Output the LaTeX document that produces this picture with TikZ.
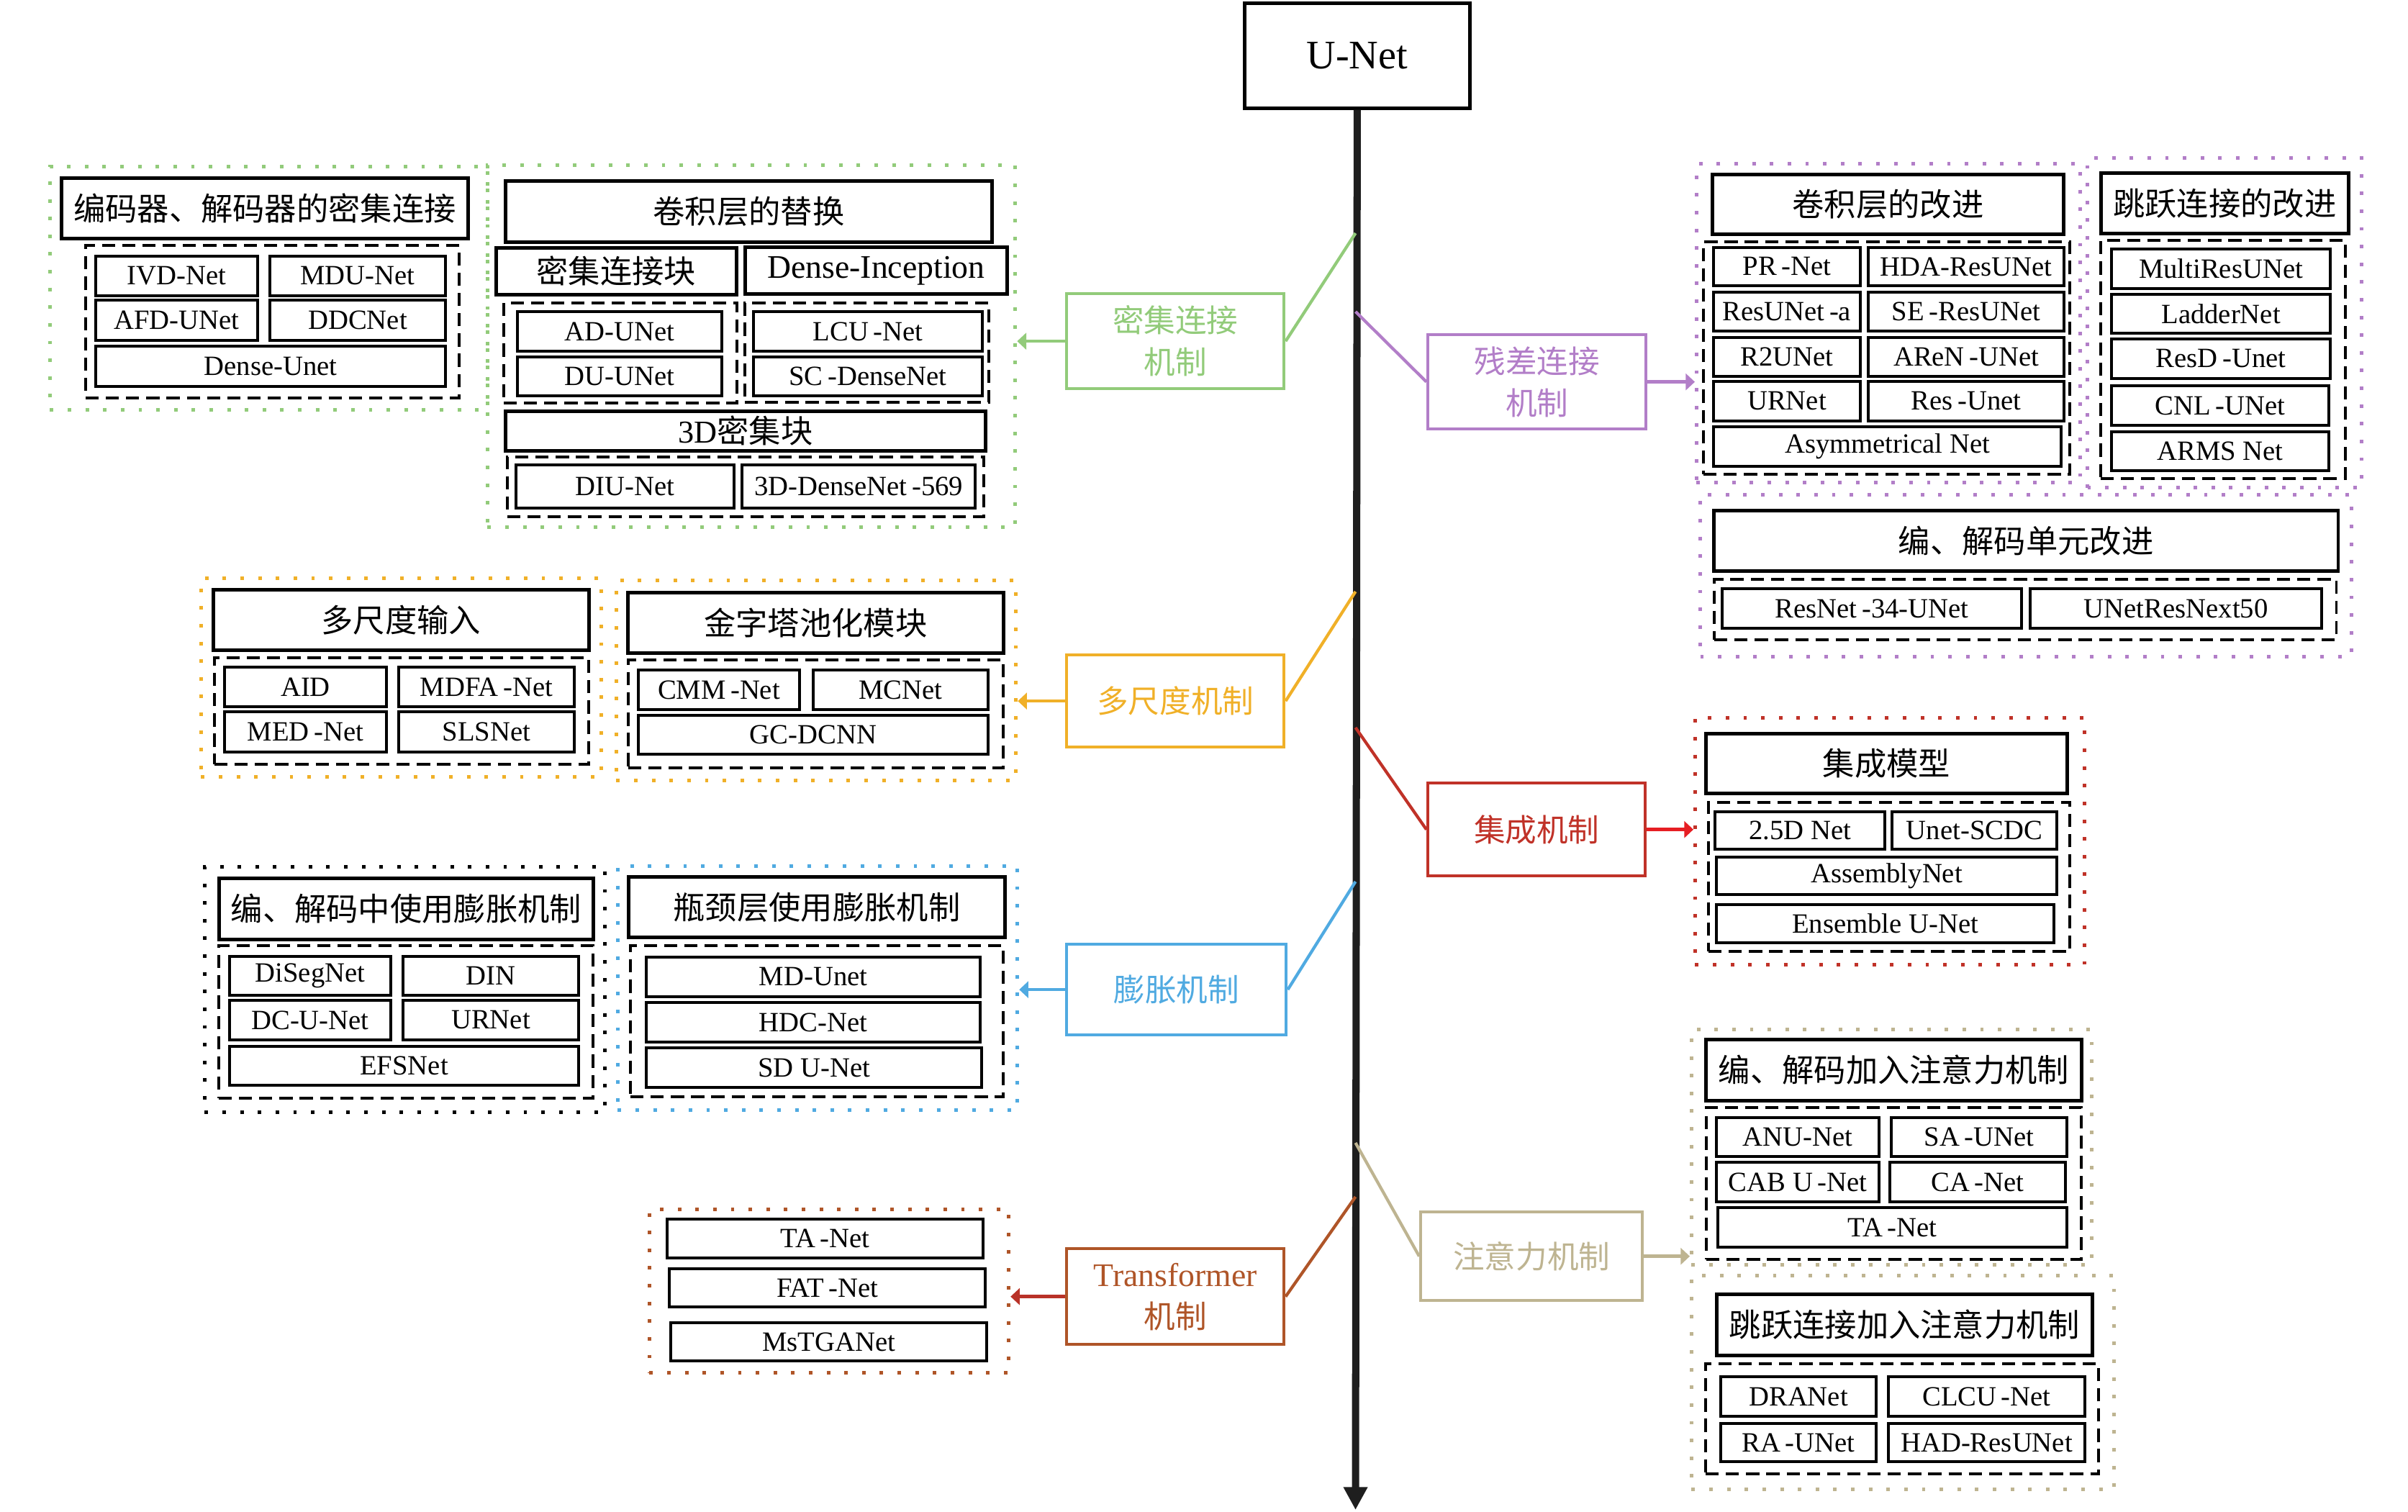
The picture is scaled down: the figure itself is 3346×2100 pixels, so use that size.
\documentclass[tikz,border=0pt]{standalone}
\usepackage{fontspec}
\setmainfont{Liberation Serif}
\newfontfamily\cjk{Noto Sans CJK SC}
\usetikzlibrary{arrows.meta}
\definecolor{cgreen}{RGB}{146,203,122}
\definecolor{cpurple}{RGB}{178,126,200}
\definecolor{corange}{RGB}{240,176,40}
\definecolor{cred}{RGB}{192,50,40}
\definecolor{credarrow}{RGB}{230,30,35}
\definecolor{cblue}{RGB}{80,170,225}
\definecolor{ctan}{RGB}{190,180,145}
\definecolor{cbrown}{RGB}{175,85,40}
\definecolor{cbrownarrow}{RGB}{185,50,40}
\newcommand\itemfont{\fontsize{11}{13}\selectfont}
\newcommand\headfont{\fontsize{12.6}{15}\selectfont\cjk}
\newcommand\mechfont{\fontsize{12.4}{16.5}\selectfont\cjk}
\newcommand\bx[7]{%
  \pgfmathsetmacro\bxw{(#5-#3)*0.28453}%
  \pgfmathsetmacro\bxh{(#6-#4)*0.28453}%
  \node[#2, anchor=north west, minimum width=\bxw pt, minimum height=\bxh pt] (#1) at (#3,#4) {#7};}
\tikzset{
  item/.style={draw=black, line width=1.1pt, inner sep=0pt, font=\itemfont},
  head/.style={draw=black, line width=1.3pt, inner sep=0pt, font=\headfont},
  grp/.style={draw=black, line width=1.1pt, inner sep=0pt, dash pattern=on 5.2pt off 2.8pt},
  region/.style={line width=1.4pt, inner sep=0pt, dash pattern=on 1.4pt off 5.6pt},
  mech/.style={line width=1.2pt, inner sep=0pt, font=\mechfont, align=center},
  link/.style={line width=1.2pt},
  arr/.style={line width=1.3pt, -{Triangle[length=3.6pt,width=6.5pt]}},
  mainline/.style={line width=2.85pt, draw={rgb,255:red,30;green,30;blue,30}, -{Triangle[length=9pt,width=9pt]}}
}
\begin{document}
\begin{tikzpicture}[x=0.01cm, y=-0.01cm]
\useasboundingbox (0,0) rectangle (3346,2100);

% ---------- U-Net and main axis ----------
\bx{unet}{draw=black, line width=1.3pt, inner sep=0pt, font=\fontsize{16}{19}\selectfont}{1727}{2}{2040}{148}{U-Net}
\coordinate (mtip) at (1883.5,2098);
\draw[mainline] (unet.south) -- (mtip);
\coordinate (jg) at (1883.5,324);
\coordinate (jp) at (1883.5,433);
\coordinate (jo) at (1883.5,822);
\coordinate (jr) at (1883.5,1011);
\coordinate (jb) at (1883.5,1225);
\coordinate (jt) at (1883.5,1588);
\coordinate (jw) at (1883.5,1663);

% ---------- Dense connection (green) ----------
\bx{gL}{region, draw=cgreen}{67}{229}{675}{567}{}
\bx{gR}{region, draw=cgreen}{675}{227}{1408}{730}{}
\bx{glh}{head}{83}{245}{648}{329}{编码器、解码器的密集连接}
\bx{glg}{grp}{117}{339}{636}{551}{}
\bx{ivd}{item}{131}{354}{356}{409}{IVD-Net}
\bx{mdu}{item}{373}{354}{617}{409}{MDU-Net}
\bx{afd}{item}{131}{415}{356}{471}{AFD-UNet}
\bx{ddc}{item}{373}{415}{617}{471}{DDCNet}
\bx{dsu}{item}{131}{479}{617}{535}{Dense-Unet}
\bx{grh}{head}{700}{249}{1376}{334}{卷积层的替换}
\bx{dcb}{head}{687}{342}{1021}{407}{密集连接块}
\bx{dinc}{head, font=\fontsize{13}{15}\selectfont}{1033}{341}{1397}{406}{Dense-Inception}
\bx{gra}{grp}{698}{419}{1022}{558}{}
\bx{grb}{grp}{1033}{419}{1372}{557}{}
\bx{adu}{item}{717}{431}{1001}{486}{AD-UNet}
\bx{duu}{item}{717}{494}{1001}{548}{DU-UNet}
\bx{lcu}{item}{1045}{431}{1363}{486}{LCU\,-Net}
\bx{scd}{item}{1045}{494}{1363}{548}{SC\,-DenseNet}
\bx{d3}{head}{700}{569}{1367}{624}{{\fontspec{Liberation Serif}3D}密集块}
\bx{grc}{grp}{703}{633}{1365}{716}{}
\bx{diu}{item}{715}{644}{1018}{704}{DIU-Net}
\bx{d569}{item}{1029}{644}{1353}{704}{3D-DenseNet\,-569}
\bx{mdense}{mech, draw=cgreen, text=cgreen}{1480}{406}{1782}{538}{密集连接\\机制}
\draw[link, cgreen] (jg) -- (mdense.east);
\draw[arr, cgreen] (mdense.west) -- (mdense.west -| gR.east);

% ---------- Residual connection (purple) ----------
\bx{pA}{region, draw=cpurple}{2355}{225}{2888}{668}{}
\bx{pB}{region, draw=cpurple}{2898}{217}{3279}{675}{}
\bx{pC}{region, draw=cpurple}{2360}{685}{3264}{910}{}
\bx{pah}{head}{2377}{240}{2865}{323}{卷积层的改进}
\bx{pag}{grp}{2365}{334}{2874}{657}{}
\bx{prn}{item}{2379}{342}{2583}{395}{PR\,-Net}
\bx{hda}{item}{2594}{342}{2866}{395}{HDA-ResUNet}
\bx{rua}{item}{2379}{404}{2583}{458}{ResUNet\,-a}
\bx{ser}{item}{2594}{404}{2866}{458}{SE\,-ResUNet}
\bx{r2u}{item}{2379}{467}{2583}{521}{R2UNet}
\bx{are}{item}{2594}{467}{2866}{521}{AReN\,-UNet}
\bx{urn}{item}{2379}{528}{2583}{583}{URNet}
\bx{resu}{item}{2594}{528}{2866}{583}{Res\,-Unet}
\bx{asy}{item}{2379}{591}{2862}{646}{Asymmetrical Net}
\bx{pbh}{head}{2917}{238}{3261}{322}{跳跃连接的改进}
\bx{pbg}{grp}{2917}{332}{3257}{663}{}
\bx{mru}{item}{2932}{344}{3236}{399}{MultiResUNet}
\bx{lad}{item}{2932}{407}{3236}{461}{LadderNet}
\bx{rsd}{item}{2932}{469}{3236}{524}{ResD\,-Unet}
\bx{cnl}{item}{2932}{534}{3234}{589}{CNL\,-UNet}
\bx{arm}{item}{2932}{598}{3234}{652}{ARMS Net}
\bx{pch}{head}{2379}{707}{3246}{791}{编、解码单元改进}
\bx{pcg}{grp}{2380}{803}{3244}{887}{}
\bx{r34}{item}{2391}{816}{2807}{871}{ResNet\,-34-UNet}
\bx{rnx}{item}{2819}{816}{3224}{871}{UNetResNext50}
\bx{mres}{mech, draw=cpurple, text=cpurple}{1982}{463}{2285}{594}{残差连接\\机制}
\draw[link, cpurple] (jp) -- (mres.west);
\draw[arr, cpurple] (mres.east) -- (mres.east -| pA.west);

% ---------- Multi-scale (orange) ----------
\bx{oL}{region, draw=corange}{277}{801}{833}{1077}{}
\bx{oR}{region, draw=corange}{854}{804}{1409}{1082}{}
\bx{olh}{head}{294}{817}{816}{901}{多尺度输入}
\bx{olg}{grp}{296}{912}{816}{1060}{}
\bx{aid}{item}{310}{925}{535}{980}{AID}
\bx{mdf}{item}{552}{925}{796}{980}{MDFA\,-Net}
\bx{med}{item}{310}{987}{535}{1043}{MED\,-Net}
\bx{sls}{item}{552}{987}{796}{1043}{SLSNet}
\bx{orh}{head}{870}{821}{1392}{905}{金字塔池化模块}
\bx{org}{grp}{871}{915}{1392}{1065}{}
\bx{cmm}{item}{885}{929}{1109}{984}{CMM\,-Net}
\bx{mcn}{item}{1128}{929}{1371}{984}{MCNet}
\bx{gcd}{item}{885}{992}{1371}{1046}{GC-DCNN}
\bx{mmulti}{mech, draw=corange, text=corange}{1480}{908}{1782}{1036}{多尺度机制}
\draw[link, corange] (jo) -- (mmulti.east);
\draw[arr, corange] (mmulti.west) -- (mmulti.west -| oR.east);

% ---------- Ensemble (red) ----------
\bx{rR}{region, draw=cred}{2353}{995}{2894}{1338}{}
\bx{rh}{head}{2368}{1017}{2870}{1100}{集成模型}
\bx{rg}{grp}{2372}{1113}{2874}{1320}{}
\bx{n25}{item}{2381}{1126}{2617}{1178}{2.5D Net}
\bx{usc}{item}{2627}{1126}{2856}{1178}{Unet-SCDC}
\bx{asm}{item}{2383}{1189}{2856}{1241}{AssemblyNet}
\bx{ens}{item}{2383}{1255}{2852}{1308}{Ensemble U-Net}
\bx{mens}{mech, draw=cred, text=cred}{1982}{1086}{2284}{1215}{集成机制}
\draw[link, cred] (jr) -- (mens.west);
\draw[arr, credarrow] (mens.east) -- (mens.east -| rR.west);

% ---------- Dilation (blue) ----------
\bx{bL}{region, draw=black}{282}{1202}{838}{1543}{}
\bx{bR}{region, draw=cblue}{856}{1201}{1411}{1540}{}
\bx{blh}{head}{302}{1218}{822}{1303}{编、解码中使用膨胀机制}
\bx{blg}{grp}{302}{1312}{822}{1524}{}
\bx{dsg}{item}{317}{1327}{541}{1381}{DiSegNet}
\bx{din}{item}{558}{1327}{802}{1381}{DIN}
\bx{dcu}{item}{317}{1388}{541}{1443}{DC-U-Net}
\bx{urn2}{item}{558}{1388}{802}{1443}{URNet}
\bx{efs}{item}{317}{1452}{802}{1506}{EFSNet}
\bx{brh}{head}{871}{1216}{1394}{1300}{瓶颈层使用膨胀机制}
\bx{brg}{grp}{874}{1312}{1392}{1522}{}
\bx{mdun}{item}{896}{1328}{1360}{1383}{MD-Unet}
\bx{hdc}{item}{896}{1391}{1360}{1446}{HDC-Net}
\bx{sdu}{item}{896}{1454}{1362}{1509}{SD U-Net}
\bx{mdil}{mech, draw=cblue, text=cblue}{1480}{1310}{1785}{1436}{膨胀机制}
\draw[link, cblue] (jb) -- (mdil.east);
\draw[arr, cblue] (mdil.west) -- (mdil.west -| bR.east);

% ---------- Attention (tan) ----------
\bx{tU}{region, draw=ctan}{2348}{1428}{2904}{1755}{}
\bx{tD}{region, draw=ctan}{2348}{1770}{2935}{2067}{}
\bx{tuh}{head}{2368}{1442}{2890}{1527}{编、解码加入注意力机制}
\bx{tug}{grp}{2369}{1537}{2890}{1748}{}
\bx{anu}{item}{2383}{1551}{2609}{1605}{ANU-Net}
\bx{sau}{item}{2626}{1551}{2870}{1605}{SA\,-UNet}
\bx{cab}{item}{2383}{1613}{2609}{1668}{CAB U\,-Net}
\bx{can}{item}{2624}{1613}{2868}{1668}{CA\,-Net}
\bx{tan1}{item}{2385}{1676}{2870}{1731}{TA\,-Net}
\bx{tdh}{head}{2383}{1796}{2905}{1881}{跳跃连接加入注意力机制}
\bx{tdg}{grp}{2368}{1893}{2914}{2046}{}
\bx{dra}{item}{2389}{1911}{2605}{1966}{DRANet}
\bx{clc}{item}{2622}{1911}{2895}{1966}{CLCU\,-Net}
\bx{rau}{item}{2389}{1976}{2605}{2029}{RA\,-UNet}
\bx{had}{item}{2622}{1976}{2895}{2029}{HAD-ResUNet}
\bx{matt}{mech, draw=ctan, text=ctan}{1972}{1682}{2280}{1805}{注意力机制}
\draw[link, ctan] (jt) -- (matt.west);
\draw[arr, ctan] (matt.east) -- (matt.east -| tU.west);

% ---------- Transformer (brown) ----------
\bx{wR}{region, draw=cbrown}{900}{1678}{1399}{1905}{}
\bx{tan2}{item}{925}{1692}{1364}{1746}{TA\,-Net}
\bx{fat}{item}{928}{1761}{1367}{1814}{FAT\,-Net}
\bx{mst}{item}{930}{1836}{1369}{1889}{MsTGANet}
\bx{mtrans}{mech, draw=cbrown, text=cbrown}{1480}{1733}{1782}{1866}{{\fontspec{Liberation Serif}\fontsize{13}{16.5}\selectfont Transformer}\\机制}
\draw[link, cbrown] (jw) -- (mtrans.east);
\draw[arr, cbrownarrow] (mtrans.west) -- (mtrans.west -| wR.east);
\end{tikzpicture}
\end{document}
